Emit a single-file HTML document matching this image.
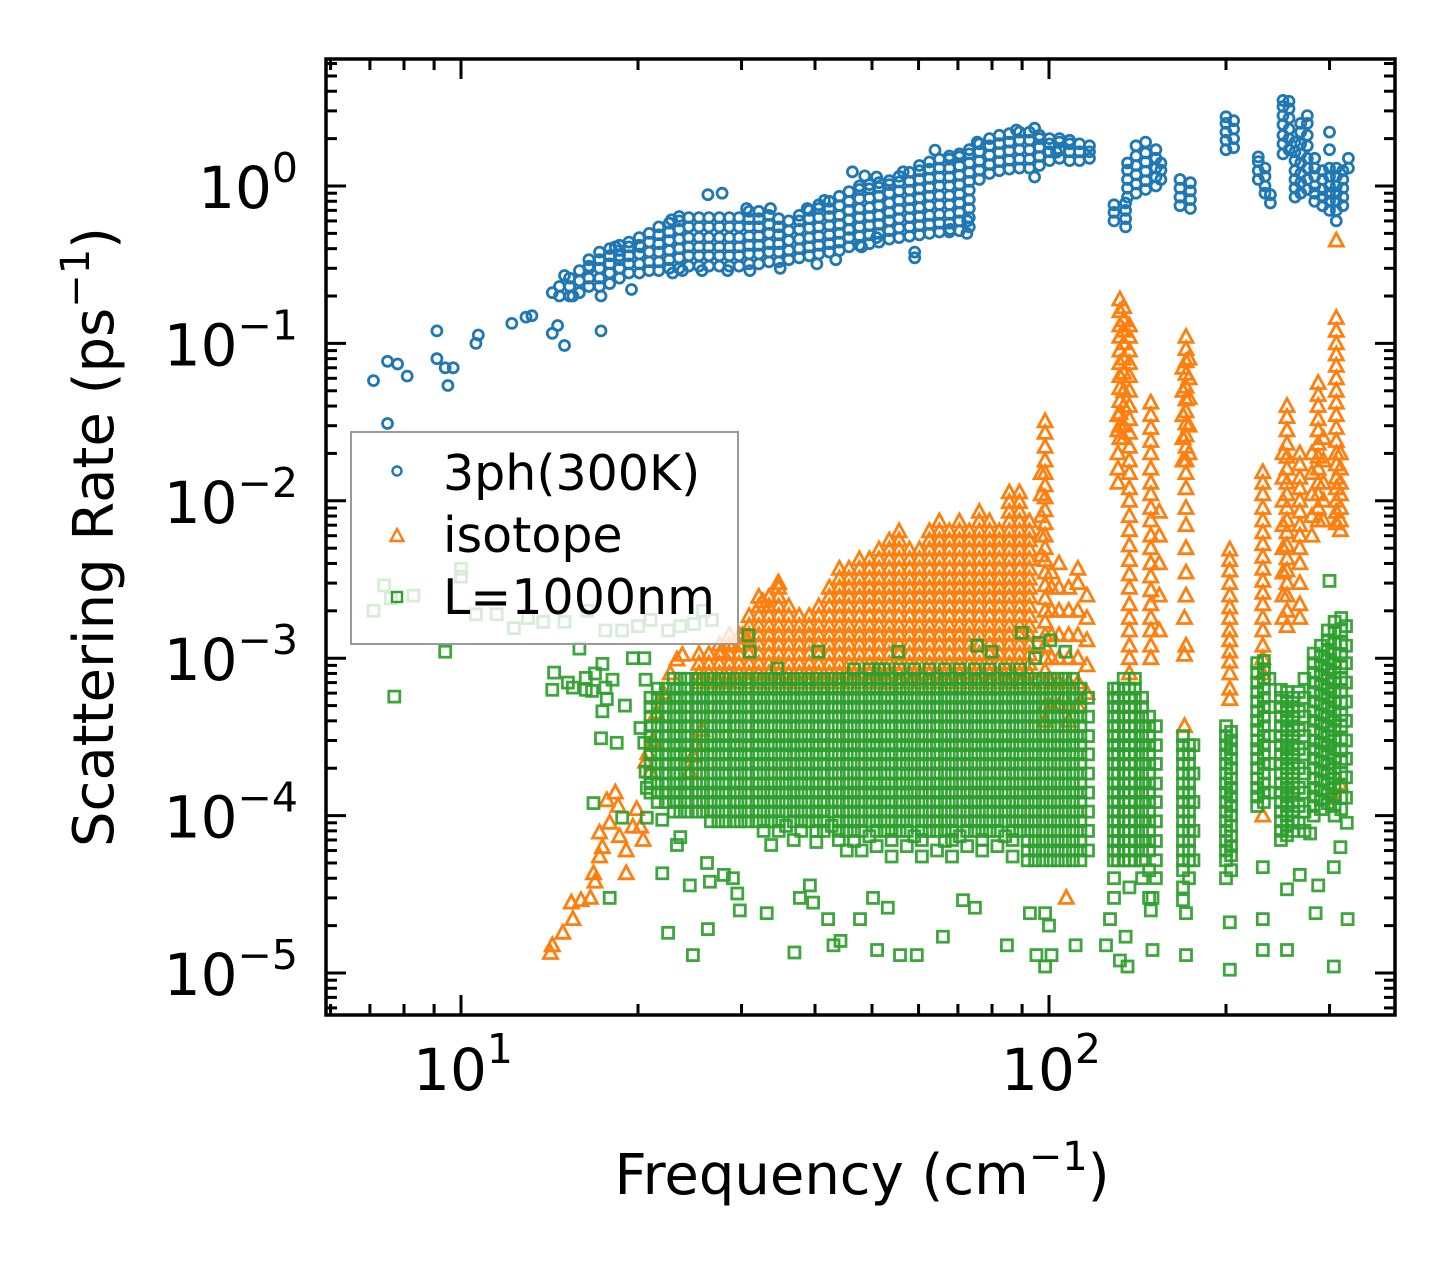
<!DOCTYPE html>
<html>
<head>
<meta charset="utf-8">
<style>
  html,body{margin:0;padding:0;background:#fff;}
  svg{display:block;}
  text{font-family:"DejaVu Sans","Liberation Sans",sans-serif;fill:#000;}
</style>
</head>
<body>
<svg id="chart" width="1455" height="1265" viewBox="0 0 1455 1265" xmlns="http://www.w3.org/2000/svg">
  <defs>
    <clipPath id="plotClip"><rect x="326" y="59" width="1069" height="956"/></clipPath>
  </defs>
  <rect x="0" y="0" width="1455" height="1265" fill="#fff"/>
  <g id="marks" clip-path="url(#plotClip)">
    <g id="g3ph"></g>
    <g id="giso"></g>
    <g id="gbdy"></g>
  </g>
  <g id="ticks"></g>
  <rect x="326" y="59" width="1069" height="956" fill="none" stroke="#000" stroke-width="3.5"/>
  <g id="labels"></g>
  <text x="862" y="1194" font-size="56" text-anchor="middle">Frequency (cm<tspan dy="-24" font-size="40">−1</tspan><tspan dy="24">)</tspan></text>
  <text transform="translate(113,537) rotate(-90)" x="0" y="0" font-size="56" text-anchor="middle">Scattering Rate (ps<tspan dy="-24" font-size="40">−1</tspan><tspan dy="24">)</tspan></text>
  <g id="legend">
    <rect x="351" y="432" width="387" height="212" fill="rgba(255,255,255,0.8)" stroke="#999" stroke-width="2"/>
    <circle cx="397" cy="471" r="4.5" fill="none" stroke="#1f77b4" stroke-width="2.4"/>
    <text x="443" y="490" font-size="49">3ph(300K)</text>
    <polygon points="397,529 403.5,541 390.5,541" fill="none" stroke="#ff7f0e" stroke-width="2.4"/>
    <text x="443" y="552" font-size="49">isotope</text>
    <rect x="392" y="592" width="10" height="10" fill="none" stroke="#2ca02c" stroke-width="2.4"/>
    <text x="443" y="614" font-size="49">L=1000nm</text>
  </g>
</svg>
<script>
// ---------- axis tick data ----------
const xMajorTicks = [10, 100];
const xMajorLabels = ["1", "2"];
const xMinorTicks = [6,7,8,9,20,30,40,50,60,70,80,90,200,300];
const yMajorTicks = [1e-5,1e-4,1e-3,1e-2,1e-1,1];
const yMajorLabels = ["−5","−4","−3","−2","−1","0"];
const yMinorMant = [2,3,4,5,6,7,8,9];
const yMinorDecades = [1e-6,1e-5,1e-4,1e-3,1e-2,1e-1,1];

// ---------- 3ph(300K) series ----------
const threePhFreq = [
7.1,7.5,7.5,7.8,8.1,9.1,9.1,9.4,9.5,9.7,10.6,10.7,12.2,12.9,13.2,14.3,14.3,14.6,15.0,15.0,15.5,16.5,17.3,17.3,18.3,18.6,19.5,20.2,
22.8,23.5,26.3,27.8,30.6,33.6,38.8,41.5,46.3,48.6,50.9,56.5,64.0,75.5,88.0,94.5,103,
22.9,23.8,25.7,28.4,31.0,34.9,40.3,43.4,48.0,50.9,59.1,59.1,67.9,72.5,72.7,94.5,
14.7,15.3,15.9,16.5,17.2,17.9,18.6,19.3,20.1,20.9,21.7,22.6,23.5,24.4,25.4,26.4,27.5,28.6,29.7,30.9,32.1,33.4,34.7,36.1,37.6,39.1,40.6,42.3,44.0,45.7,47.6,49.5,51.4,53.5,55.6,57.9,60.2,62.6,65.1,67.7,70.4,73.2,76.1,79.2,82.3,85.6,89.1,92.6,96.3,100.2,104.2,108.4,112.7,117.2,
129,135,136,140.6,146,152,155,167,174,200,206,227,233,238,250,256,262,268,275,283,292,300,308,316,323
];
const threePhRates = [
[0.058],[0.031],[0.077],[0.074],[0.062],[0.12],[0.08],[0.07],[0.054],[0.07],[0.10],[0.113],[0.134],[0.147],[0.15],[0.116],[0.21],[0.13],[0.097],[0.27],[0.2],[0.31],[0.12],[0.2],[0.41],[0.36],[0.22],[0.41],
[0.61],[0.64],[0.88],[0.9],[0.72],[0.72],[0.72],[0.81],[1.23],[1.16],[1.14],[1.23],[1.69],[1.9],[2.27],[2.33],[1.64],
[0.28],[0.29],[0.29],[0.29],[0.29],[0.3],[0.32],[0.34],[0.41],[0.47],[0.35],[0.38],[0.53],[0.5],[0.6],[1.14],
[0.2,0.23],
[0.2,0.23,0.26],
[0.21,0.25,0.29],
[0.23,0.26,0.3,0.34],
[0.23,0.26,0.3,0.34,0.38],
[0.24,0.28,0.32,0.36,0.4],
[0.26,0.3,0.34,0.39,0.42],
[0.28,0.32,0.36,0.41,0.44],
[0.28,0.32,0.37,0.42,0.47],
[0.29,0.33,0.38,0.44,0.5],
[0.29,0.33,0.38,0.43,0.49,0.55],
[0.3,0.34,0.39,0.45,0.51,0.58],
[0.3,0.35,0.4,0.46,0.53,0.6],
[0.31,0.36,0.41,0.47,0.55,0.63],
[0.31,0.36,0.41,0.47,0.55,0.63],
[0.31,0.36,0.41,0.47,0.55,0.63],
[0.31,0.36,0.41,0.47,0.55,0.63],
[0.31,0.36,0.41,0.47,0.55,0.63],
[0.31,0.36,0.41,0.47,0.55,0.63],
[0.32,0.37,0.42,0.48,0.55,0.62,0.69],
[0.32,0.37,0.42,0.48,0.55,0.62,0.69],
[0.33,0.38,0.43,0.5,0.57,0.65],
[0.33,0.38,0.43,0.49,0.55,0.62],
[0.34,0.39,0.45,0.52,0.6],
[0.35,0.4,0.46,0.53,0.6,0.65],
[0.36,0.41,0.47,0.54,0.62,0.7],
[0.37,0.42,0.48,0.55,0.63,0.72,0.76],
[0.38,0.43,0.49,0.56,0.64,0.72,0.8],
[0.39,0.44,0.5,0.57,0.65,0.75,0.86],
[0.41,0.47,0.53,0.61,0.7,0.8,0.92],
[0.42,0.48,0.55,0.63,0.72,0.83,0.95,1.0],
[0.43,0.49,0.56,0.64,0.73,0.84,0.96,1.02],
[0.44,0.5,0.57,0.65,0.75,0.86,0.98,1.05],
[0.46,0.52,0.6,0.68,0.78,0.9,1.02,1.08],
[0.47,0.54,0.62,0.71,0.81,0.93,1.06,1.15],
[0.48,0.55,0.63,0.72,0.82,0.94,1.07,1.22],
[0.49,0.56,0.64,0.73,0.84,0.96,1.1,1.25,1.35],
[0.5,0.57,0.65,0.75,0.86,0.98,1.12,1.28,1.42],
[0.51,0.58,0.66,0.76,0.87,1.0,1.14,1.3,1.48],
[0.51,0.58,0.66,0.76,0.87,1.0,1.14,1.3,1.48,1.55],
[0.52,0.6,0.68,0.78,0.89,1.02,1.17,1.34,1.53,1.6],
[0.55,0.63,0.72,0.82,0.94,1.07,1.22,1.4,1.6,1.7],
[1.1,1.26,1.44,1.65,1.85],
[1.2,1.37,1.57,1.8,2.0],
[1.25,1.43,1.63,1.86,2.1],
[1.28,1.46,1.67,1.9,2.15],
[1.3,1.48,1.7,1.95,2.2],
[1.3,1.48,1.7,1.95,2.2],
[1.35,1.54,1.76,2.0,2.1],
[1.45,1.65,1.85,2.0],
[1.5,1.7,1.9,2.0],
[1.45,1.65,1.85,1.95],
[1.45,1.65,1.85],
[1.5,1.65,1.8],
[0.6,0.68,0.76],
[0.55,0.62,0.7,0.78],
[0.85,0.97,1.1,1.26,1.4],
[0.9,1.03,1.18,1.35,1.55,1.8],
[0.95,1.08,1.24,1.42,1.62,1.9],
[1.0,1.14,1.3,1.5,1.7],
[1.1,1.26,1.4],
[0.75,0.85,0.97,1.1],
[0.72,0.82,0.93,1.05],
[1.7,1.95,2.2,2.5,2.75],
[1.75,2.0,2.3,2.6],
[1.1,1.25,1.43,1.53],
[0.9,1.0,1.15,1.3],
[0.78,0.88],
[1.6,1.85,2.1,2.45,2.8,3.2,3.5],
[1.7,2.0,2.3,2.7,3.1,3.45],
[0.85,0.97,1.1,1.25,1.45,1.65,1.9],
[0.9,1.05,1.2,1.4,1.6,1.85,2.2,2.5],
[0.95,1.1,1.3,1.5,1.8,2.1,2.5,2.8],
[0.8,0.9,1.0,1.15,1.3,1.5],
[0.75,0.85,0.95,1.1,1.25],
[0.7,0.8,0.9,1.0,1.15,1.3,1.7,2.2],
[0.6,0.7,0.8,0.9,1.0,1.15,1.3],
[0.75,0.85,0.97,1.1,1.25],
[1.5,1.3]
];

// ---------- isotope series ----------
const isoFreq = [
14.2,14.3,14.9,15.5,15.4,16.0,16.6,16.9,16.8,17.2,17.4,17.2,17.9,17.7,18.3,18.5,18.6,19.1,19.1,19.6,19.9,20.2,20.4,20.6,20.8,21.0,21.2,21.5,22.1,22.7,23.3,23.8,24.5,24.8,25.1,25.7,27.2,27.8,29.0,30.1,30.6,32.6,34.6,
25.4,26.4,27.5,28.6,29.7,30.9,32.1,33.4,34.7,36.1,37.6,39.1,40.6,42.3,44.0,45.7,47.6,49.5,51.4,53.5,55.6,57.9,60.2,62.6,65.1,67.7,70.4,73.2,76.1,79.2,82.3,85.6,89.1,92.6,
97,98.5,101,104,108,112,116,107,
131,132,134,137,149,154,
169,171,173,170,170,171,
203,203,231,231,250,254,267,280,287,293,308,313,308,305,312
];
const isoRates = [
[1.34e-5],[1.5e-5],[1.8e-5],[2.2e-5],[2.8e-5],[2.9e-5],[3.0e-5],[3.8e-5],[4.3e-5],[5.5e-5],[6.3e-5],[7.8e-5],[9.0e-5],[1.25e-4],[1.4e-4],[1.15e-4],[7.4e-5],[6.0e-5],[4.3e-5],[8.5e-5],[1.1e-4],[8.5e-5],[7.0e-5],[2.2e-4],[2.5e-4],[1.9e-4],[3.0e-4],[4.5e-4],[6.0e-4],[8e-4],[9.8e-4],[1.05e-3],[1.9e-4],[2.4e-4],[2.8e-4],[3.5e-4],[7.3e-4],[1.1e-3],[1.2e-3],[1.4e-3],[1.35e-3],[2.3e-3],[3.0e-3],
[0.0007,0.0008,0.00092,0.00106],
[0.0007,0.0008,0.00092,0.00106],
[0.0007,0.0008,0.00092,0.00106,0.00122],
[0.0007,0.0008,0.00092,0.00106,0.00122,0.0014],
[0.0007,0.0008,0.00092,0.00106,0.00122,0.0014],
[0.0007,0.0008,0.00092,0.00106,0.00122,0.0014,0.0016,0.00185],
[0.0007,0.0008,0.00092,0.00106,0.00122,0.0014,0.0016,0.00185,0.00213,0.00245],
[0.0007,0.0008,0.00092,0.00106,0.00122,0.0014,0.0016,0.00185,0.00213,0.00245],
[0.0007,0.0008,0.00092,0.00106,0.00122,0.0014,0.0016,0.00185,0.00213,0.00245,0.0028,0.003],
[0.0007,0.0008,0.00092,0.00106,0.00122,0.0014,0.0016,0.00185,0.00213],
[0.0007,0.0008,0.00092,0.00106,0.00122,0.0014,0.0016,0.00185],
[0.0007,0.0008,0.00092,0.00106,0.00122,0.0014,0.0016,0.00185],
[0.0007,0.0008,0.00092,0.00106,0.00122,0.0014,0.0016,0.00185,0.00213],
[0.0007,0.0008,0.00092,0.00106,0.00122,0.0014,0.0016,0.00185,0.00213,0.00245,0.0028],
[0.0007,0.0008,0.00092,0.00106,0.00122,0.0014,0.0016,0.00185,0.00213,0.00245,0.0028,0.0032,0.0037],
[0.0007,0.0008,0.00092,0.00106,0.00122,0.0014,0.0016,0.00185,0.00213,0.00245,0.0028,0.0032,0.0037],
[0.0007,0.0008,0.00092,0.00106,0.00122,0.0014,0.0016,0.00185,0.00213,0.00245,0.0028,0.0032,0.0037,0.00425],
[0.0007,0.0008,0.00092,0.00106,0.00122,0.0014,0.0016,0.00185,0.00213,0.00245,0.0028,0.0032,0.0037,0.00425],
[0.0007,0.0008,0.00092,0.00106,0.00122,0.0014,0.0016,0.00185,0.00213,0.00245,0.0028,0.0032,0.0037,0.00425,0.0049],
[0.0007,0.0008,0.00092,0.00106,0.00122,0.0014,0.0016,0.00185,0.00213,0.00245,0.0028,0.0032,0.0037,0.00425,0.0049,0.0056],
[0.0007,0.0008,0.00092,0.00106,0.00122,0.0014,0.0016,0.00185,0.00213,0.00245,0.0028,0.0032,0.0037,0.00425,0.0049,0.0056,0.0064],
[0.0007,0.0008,0.00092,0.00106,0.00122,0.0014,0.0016,0.00185,0.00213,0.00245,0.0028,0.0032,0.0037,0.00425,0.0049],
[0.0007,0.0008,0.00092,0.00106,0.00122,0.0014,0.0016,0.00185,0.00213,0.00245,0.0028,0.0032,0.0037,0.00425,0.0049],
[0.0007,0.0008,0.00092,0.00106,0.00122,0.0014,0.0016,0.00185,0.00213,0.00245,0.0028,0.0032,0.0037,0.00425,0.0049,0.0056,0.0064],
[0.0007,0.0008,0.00092,0.00106,0.00122,0.0014,0.0016,0.00185,0.00213,0.00245,0.0028,0.0032,0.0037,0.00425,0.0049,0.0056,0.0064,0.0074],
[0.0007,0.0008,0.00092,0.00106,0.00122,0.0014,0.0016,0.00185,0.00213,0.00245,0.0028,0.0032,0.0037,0.00425,0.0049,0.0056,0.0064],
[0.0007,0.0008,0.00092,0.00106,0.00122,0.0014,0.0016,0.00185,0.00213,0.00245,0.0028,0.0032,0.0037,0.00425,0.0049,0.0056,0.0064,0.0074],
[0.0007,0.0008,0.00092,0.00106,0.00122,0.0014,0.0016,0.00185,0.00213,0.00245,0.0028,0.0032,0.0037,0.00425,0.0049,0.0056,0.0064],
[0.0007,0.0008,0.00092,0.00106,0.00122,0.0014,0.0016,0.00185,0.00213,0.00245,0.0028,0.0032,0.0037,0.00425,0.0049,0.0056,0.0064,0.0074,0.0085],
[0.0007,0.0008,0.00092,0.00106,0.00122,0.0014,0.0016,0.00185,0.00213,0.00245,0.0028,0.0032,0.0037,0.00425,0.0049,0.0056,0.0064,0.0074],
[0.0007,0.0008,0.00092,0.00106,0.00122,0.0014,0.0016,0.00185,0.00213,0.00245,0.0028,0.0032,0.0037,0.00425,0.0049,0.0056,0.0064],
[0.0007,0.0008,0.00092,0.00106,0.00122,0.0014,0.0016,0.00185,0.00213,0.00245,0.0028,0.0032,0.0037,0.00425,0.0049,0.0056,0.0064,0.0074,0.0085,0.0098,0.0113],
[0.0007,0.0008,0.00092,0.00106,0.00122,0.0014,0.0016,0.00185,0.00213,0.00245,0.0028,0.0032,0.0037,0.00425,0.0049,0.0056,0.0064,0.0074,0.0085,0.0098,0.0113],
[0.0007,0.0008,0.00092,0.00106,0.00122,0.0014,0.0016,0.00185,0.00213,0.00245,0.0028,0.0032,0.0037,0.00425,0.0049,0.0056,0.0064,0.0074],
[0.015,0.011,0.008,0.006,0.0045],
[0.032,0.027,0.022,0.018,0.015,0.0125,0.0105,0.0087,0.0072,0.006,0.005,0.0042,0.0035,0.0029,0.0024,0.002,0.0017,0.0014,0.0012,0.001,0.00083,0.0007,0.0005,0.0004],
[0.0005,0.0007,0.001,0.0014,0.002,0.0028,0.0035],
[0.0005,0.0007,0.001,0.0014,0.002,0.0028,0.004],
[0.0004,0.0005,0.0007,0.001,0.0014,0.002,0.0028],
[0.0005,0.0007,0.001,0.0014,0.002,0.003,0.0037],
[0.0006,0.0009,0.0013,0.0018,0.0025],
[3e-5],
[0.035,0.028,0.02,0.016,0.013],
[0.19,0.16,0.13,0.11,0.09,0.075,0.062,0.052,0.043,0.036,0.03,0.025],
[0.17,0.14,0.12,0.1,0.08,0.065,0.05,0.04,0.03,0.025],
[0.13,0.11,0.09,0.075,0.062,0.05,0.04,0.033,0.027,0.022,0.018,0.015,0.012,0.01,0.008,0.0065,0.0052,0.0042,0.0034,0.0028,0.0022,0.0018,0.0015,0.0012,0.001,0.0008],
[0.042,0.035,0.029,0.024,0.02,0.016,0.013,0.011,0.009,0.0075,0.006,0.005,0.004,0.0033,0.0027,0.0022,0.0018,0.0015,0.0012,0.001],
[0.0085,0.006,0.004,0.0025,0.0015],
[0.07,0.05,0.035,0.025,0.018],
[0.11,0.092,0.077,0.064,0.053,0.044,0.037,0.031,0.026,0.022,0.018,0.015,0.012,0.009,0.007,0.005,0.0035,0.0025],
[0.08,0.06,0.045,0.03,0.02],
[0.0018,0.00105],
[0.00037],
[0.0012],
[0.0049,0.0042,0.0036,0.003,0.0025,0.0021,0.0018,0.0015,0.0013,0.0011,0.00095,0.0008],
[0.00064,0.00055],
[0.0152,0.013,0.011,0.009,0.0075,0.0063,0.0053,0.0044,0.0037,0.0031,0.0026,0.0022,0.0018,0.0015,0.0012,0.001,0.0008],
[0.0001],
[0.02,0.014,0.01,0.007,0.005,0.0035,0.0025,0.0018],
[0.04,0.034,0.028,0.023,0.019,0.016,0.013,0.011,0.009,0.0075,0.0063,0.0052,0.0043,0.0036,0.003,0.0025,0.002,0.0016],
[0.02,0.017,0.014,0.012,0.01,0.0085,0.007,0.006,0.005,0.004,0.003,0.0022,0.0018],
[0.02,0.015,0.011,0.008,0.006],
[0.056,0.047,0.04,0.033,0.028,0.023,0.019,0.016,0.013,0.011,0.009,0.0075],
[0.025,0.018,0.013,0.01,0.0075],
[0.145,0.12,0.1,0.085,0.072,0.06,0.05,0.042,0.035,0.029,0.024,0.02,0.017,0.014,0.012,0.01,0.0085,0.0072],
[0.02,0.016,0.013,0.011,0.009,0.0075,0.0065],
[0.45],
[1.3e-4],
[1.6e-4]
];

// ---------- boundary (L=1000nm) series ----------
const bdyFreq = [
7.1,7.4,7.6,8.3,9.4,10.0,10.0,10.6,11.5,12.3,13.0,13.8,15.0,16.4,17.6,18.8,20.0,21.0,22.5,23.6,24.9,26.7,25.8,7.7,
15.9,14.4,14.3,15.2,15.5,16.3,16.9,17.4,17.6,18.1,19.6,20.5,20.6,16.3,16.7,17.4,17.7,19.0,17.3,18.4,20.2,20.5,20.6,20.7,16.8,18.8,20.7,22.0,
17.9,22.0,23.3,23.6,24.5,26.2,26.5,28.0,29.0,22.5,26.3,24.8,29.5,29.8,33.1,36.9,37.7,39.2,39.7,42.1,43.0,44.2,47.7,51.0,50.2,53.2,55.8,59.6,66.0,71.4,74.8,84.8,92.8,95.2,
40.5,55.4,75.5,79.9,89.9,96.0,34.5,30.8,31.0,51.4,
21.0,21.6,22.3,
23.0,23.6,24.3,25.1,25.8,
26.6,27.4,28.2,29.1,29.9,30.8,31.8,
32.7,33.7,34.7,35.7,36.8,37.9,39.0,40.2,41.4,42.7,43.9,
45.3,46.6,48.0,49.5,50.9,52.5,54.0,55.7,57.3,59.0,60.8,62.6,
64.5,66.5,68.4,70.5,72.6,74.8,77.0,79.3,81.7,84.2,86.7,89.3,
92.0,94.7,97.6,100.5,103.5,106.6,109.8,113.1,116.5,
98.5,101,111,98.5,100,132,135,150,136,171,171,203,203,231,231,254,284,305,322,305,287,254,231,267,278,313,321,127,125,150,149,300,
129,131,134,137,140,144,148,152,169,173,176,200,204,226,232,237,248,254,260,266,272,282,290,298,306,314,320
];
const bdyRates = [
[2.0e-3],[2.9e-3],[2.4e-3],[2.5e-3],[1.1e-3],[3.7e-3],[3.3e-3],[1.9e-3],[1.9e-3],[1.55e-3],[1.8e-3],[1.7e-3],[1.7e-3],[2.0e-3],[1.5e-3],[1.5e-3],[1.6e-3],[1.75e-3],[1.5e-3],[1.6e-3],[1.65e-3],[1.75e-3],[2.0e-3],[5.7e-4],
[1.15e-3],[8.1e-4],[6.3e-4],[7.0e-4],[6.5e-4],[7.5e-4],[8.0e-4],[9.2e-4],[6.5e-4],[7.3e-4],[1.0e-3],[1.0e-3],[7.3e-4],[6.3e-4],[6.2e-4],[4.6e-4],[5.5e-4],[5.0e-4],[3.1e-4],[2.9e-4],[3.6e-4],[2.9e-4],[1.9e-4],[1.5e-4],[1.2e-4],[9.7e-5],[9.7e-5],[9.4e-5],
[3e-5],[4.3e-5],[6.5e-5],[7.3e-5],[3.6e-5],[5e-5],[3.8e-5],[4.2e-5],[4.0e-5],[1.8e-5],[1.9e-5],[1.3e-5],[3.2e-5],[2.5e-5],[2.4e-5],[1.35e-5],[3e-5],[3.6e-5],[2.8e-5],[2.2e-5],[1.5e-5],[1.6e-5],[2.2e-5],[1.4e-5],[3e-5],[2.6e-5],[1.3e-5],[1.3e-5],[1.7e-5],[2.9e-5],[2.6e-5],[1.5e-5],[2.4e-5],[1.3e-5],
[1.1e-3],[1.1e-3],[1.2e-3],[1.1e-3],[1.45e-3],[1.25e-3],[8.6e-4],[1.4e-3],[1.1e-3],[8.5e-4],
// 21.0, 21.6, 22.3
[1.4e-4,1.6e-4,1.85e-4,2.13e-4,2.45e-4,2.8e-4,3.2e-4,3.7e-4,4.25e-4,4.9e-4,5.6e-4],
[1.22e-4,1.4e-4,1.6e-4,1.85e-4,2.13e-4,2.45e-4,2.8e-4,3.2e-4,3.7e-4,4.25e-4,4.9e-4,5.6e-4,6.4e-4],
[1.22e-4,1.4e-4,1.6e-4,1.85e-4,2.13e-4,2.45e-4,2.8e-4,3.2e-4,3.7e-4,4.25e-4,4.9e-4,5.6e-4,6.4e-4],
// 23.0 - 25.8 (5)
[1.06e-4,1.22e-4,1.4e-4,1.6e-4,1.85e-4,2.13e-4,2.45e-4,2.8e-4,3.2e-4,3.7e-4,4.25e-4,4.9e-4,5.6e-4,6.4e-4,7.4e-4],
[1.06e-4,1.22e-4,1.4e-4,1.6e-4,1.85e-4,2.13e-4,2.45e-4,2.8e-4,3.2e-4,3.7e-4,4.25e-4,4.9e-4,5.6e-4,6.4e-4,7.4e-4],
[1.06e-4,1.22e-4,1.4e-4,1.6e-4,1.85e-4,2.13e-4,2.45e-4,2.8e-4,3.2e-4,3.7e-4,4.25e-4,4.9e-4,5.6e-4,6.4e-4,7.4e-4],
[1.06e-4,1.22e-4,1.4e-4,1.6e-4,1.85e-4,2.13e-4,2.45e-4,2.8e-4,3.2e-4,3.7e-4,4.25e-4,4.9e-4,5.6e-4,6.4e-4,7.4e-4],
[1.06e-4,1.22e-4,1.4e-4,1.6e-4,1.85e-4,2.13e-4,2.45e-4,2.8e-4,3.2e-4,3.7e-4,4.25e-4,4.9e-4,5.6e-4,6.4e-4,7.4e-4],
// 26.6 - 31.8 (7)
[9.2e-5,1.06e-4,1.22e-4,1.4e-4,1.6e-4,1.85e-4,2.13e-4,2.45e-4,2.8e-4,3.2e-4,3.7e-4,4.25e-4,4.9e-4,5.6e-4,6.4e-4,7.4e-4],
[9.2e-5,1.06e-4,1.22e-4,1.4e-4,1.6e-4,1.85e-4,2.13e-4,2.45e-4,2.8e-4,3.2e-4,3.7e-4,4.25e-4,4.9e-4,5.6e-4,6.4e-4,7.4e-4],
[9.2e-5,1.06e-4,1.22e-4,1.4e-4,1.6e-4,1.85e-4,2.13e-4,2.45e-4,2.8e-4,3.2e-4,3.7e-4,4.25e-4,4.9e-4,5.6e-4,6.4e-4,7.4e-4],
[9.2e-5,1.06e-4,1.22e-4,1.4e-4,1.6e-4,1.85e-4,2.13e-4,2.45e-4,2.8e-4,3.2e-4,3.7e-4,4.25e-4,4.9e-4,5.6e-4,6.4e-4,7.4e-4],
[9.2e-5,1.06e-4,1.22e-4,1.4e-4,1.6e-4,1.85e-4,2.13e-4,2.45e-4,2.8e-4,3.2e-4,3.7e-4,4.25e-4,4.9e-4,5.6e-4,6.4e-4,7.4e-4],
[9.2e-5,1.06e-4,1.22e-4,1.4e-4,1.6e-4,1.85e-4,2.13e-4,2.45e-4,2.8e-4,3.2e-4,3.7e-4,4.25e-4,4.9e-4,5.6e-4,6.4e-4,7.4e-4],
[9.2e-5,1.06e-4,1.22e-4,1.4e-4,1.6e-4,1.85e-4,2.13e-4,2.45e-4,2.8e-4,3.2e-4,3.7e-4,4.25e-4,4.9e-4,5.6e-4,6.4e-4,7.4e-4],
// 32.7 - 43.9 (11)
[8e-5,9.2e-5,1.06e-4,1.22e-4,1.4e-4,1.6e-4,1.85e-4,2.13e-4,2.45e-4,2.8e-4,3.2e-4,3.7e-4,4.25e-4,4.9e-4,5.6e-4,6.4e-4,7.4e-4],
[6.5e-5,9.2e-5,1.06e-4,1.22e-4,1.4e-4,1.6e-4,1.85e-4,2.13e-4,2.45e-4,2.8e-4,3.2e-4,3.7e-4,4.25e-4,4.9e-4,5.6e-4,6.4e-4,7.4e-4],
[8e-5,9.2e-5,1.06e-4,1.22e-4,1.4e-4,1.6e-4,1.85e-4,2.13e-4,2.45e-4,2.8e-4,3.2e-4,3.7e-4,4.25e-4,4.9e-4,5.6e-4,6.4e-4,7.4e-4],
[8.6e-5,1.06e-4,1.22e-4,1.4e-4,1.6e-4,1.85e-4,2.13e-4,2.45e-4,2.8e-4,3.2e-4,3.7e-4,4.25e-4,4.9e-4,5.6e-4,6.4e-4,7.4e-4],
[7e-5,9.2e-5,1.06e-4,1.22e-4,1.4e-4,1.6e-4,1.85e-4,2.13e-4,2.45e-4,2.8e-4,3.2e-4,3.7e-4,4.25e-4,4.9e-4,5.6e-4,6.4e-4,7.4e-4],
[8e-5,9.2e-5,1.06e-4,1.22e-4,1.4e-4,1.6e-4,1.85e-4,2.13e-4,2.45e-4,2.8e-4,3.2e-4,3.7e-4,4.25e-4,4.9e-4,5.6e-4,6.4e-4,7.4e-4],
[9.2e-5,1.06e-4,1.22e-4,1.4e-4,1.6e-4,1.85e-4,2.13e-4,2.45e-4,2.8e-4,3.2e-4,3.7e-4,4.25e-4,4.9e-4,5.6e-4,6.4e-4,7.4e-4],
[6.8e-5,8e-5,9.2e-5,1.06e-4,1.22e-4,1.4e-4,1.6e-4,1.85e-4,2.13e-4,2.45e-4,2.8e-4,3.2e-4,3.7e-4,4.25e-4,4.9e-4,5.6e-4,6.4e-4,7.4e-4],
[8e-5,9.2e-5,1.06e-4,1.22e-4,1.4e-4,1.6e-4,1.85e-4,2.13e-4,2.45e-4,2.8e-4,3.2e-4,3.7e-4,4.25e-4,4.9e-4,5.6e-4,6.4e-4,7.4e-4],
[8.6e-5,1.06e-4,1.22e-4,1.4e-4,1.6e-4,1.85e-4,2.13e-4,2.45e-4,2.8e-4,3.2e-4,3.7e-4,4.25e-4,4.9e-4,5.6e-4,6.4e-4,7.4e-4],
[7e-5,8e-5,9.2e-5,1.06e-4,1.22e-4,1.4e-4,1.6e-4,1.85e-4,2.13e-4,2.45e-4,2.8e-4,3.2e-4,3.7e-4,4.25e-4,4.9e-4,5.6e-4,6.4e-4,7.4e-4],
// 45.3 - 62.6 (12)
[6e-5,8e-5,9.2e-5,1.06e-4,1.22e-4,1.4e-4,1.6e-4,1.85e-4,2.13e-4,2.45e-4,2.8e-4,3.2e-4,3.7e-4,4.25e-4,4.9e-4,5.6e-4,6.4e-4,7.4e-4],
[6.9e-5,8e-5,9.2e-5,1.06e-4,1.22e-4,1.4e-4,1.6e-4,1.85e-4,2.13e-4,2.45e-4,2.8e-4,3.2e-4,3.7e-4,4.25e-4,4.9e-4,5.6e-4,6.4e-4,7.4e-4,8.5e-4],
[6e-5,8e-5,9.2e-5,1.06e-4,1.22e-4,1.4e-4,1.6e-4,1.85e-4,2.13e-4,2.45e-4,2.8e-4,3.2e-4,3.7e-4,4.25e-4,4.9e-4,5.6e-4,6.4e-4,7.4e-4],
[7.4e-5,9.2e-5,1.06e-4,1.22e-4,1.4e-4,1.6e-4,1.85e-4,2.13e-4,2.45e-4,2.8e-4,3.2e-4,3.7e-4,4.25e-4,4.9e-4,5.6e-4,6.4e-4,7.4e-4,8.5e-4],
[6.4e-5,8e-5,9.2e-5,1.06e-4,1.22e-4,1.4e-4,1.6e-4,1.85e-4,2.13e-4,2.45e-4,2.8e-4,3.2e-4,3.7e-4,4.25e-4,4.9e-4,5.6e-4,6.4e-4,7.4e-4],
[8e-5,9.2e-5,1.06e-4,1.22e-4,1.4e-4,1.6e-4,1.85e-4,2.13e-4,2.45e-4,2.8e-4,3.2e-4,3.7e-4,4.25e-4,4.9e-4,5.6e-4,6.4e-4,7.4e-4,8.5e-4],
[5.5e-5,7e-5,8e-5,9.2e-5,1.06e-4,1.22e-4,1.4e-4,1.6e-4,1.85e-4,2.13e-4,2.45e-4,2.8e-4,3.2e-4,3.7e-4,4.25e-4,4.9e-4,5.6e-4,6.4e-4,7.4e-4],
[8e-5,9.2e-5,1.06e-4,1.22e-4,1.4e-4,1.6e-4,1.85e-4,2.13e-4,2.45e-4,2.8e-4,3.2e-4,3.7e-4,4.25e-4,4.9e-4,5.6e-4,6.4e-4,7.4e-4,8.5e-4],
[6.4e-5,8e-5,9.2e-5,1.06e-4,1.22e-4,1.4e-4,1.6e-4,1.85e-4,2.13e-4,2.45e-4,2.8e-4,3.2e-4,3.7e-4,4.25e-4,4.9e-4,5.6e-4,6.4e-4,7.4e-4],
[7.4e-5,9.2e-5,1.06e-4,1.22e-4,1.4e-4,1.6e-4,1.85e-4,2.13e-4,2.45e-4,2.8e-4,3.2e-4,3.7e-4,4.25e-4,4.9e-4,5.6e-4,6.4e-4,7.4e-4,8.5e-4],
[5.5e-5,7e-5,8e-5,9.2e-5,1.06e-4,1.22e-4,1.4e-4,1.6e-4,1.85e-4,2.13e-4,2.45e-4,2.8e-4,3.2e-4,3.7e-4,4.25e-4,4.9e-4,5.6e-4,6.4e-4,7.4e-4],
[8e-5,9.2e-5,1.06e-4,1.22e-4,1.4e-4,1.6e-4,1.85e-4,2.13e-4,2.45e-4,2.8e-4,3.2e-4,3.7e-4,4.25e-4,4.9e-4,5.6e-4,6.4e-4,7.4e-4,8.5e-4],
// 64.5 - 89.3 (12)
[6e-5,8e-5,9.2e-5,1.06e-4,1.22e-4,1.4e-4,1.6e-4,1.85e-4,2.13e-4,2.45e-4,2.8e-4,3.2e-4,3.7e-4,4.25e-4,4.9e-4,5.6e-4,6.4e-4,7.4e-4],
[6.9e-5,8e-5,9.2e-5,1.06e-4,1.22e-4,1.4e-4,1.6e-4,1.85e-4,2.13e-4,2.45e-4,2.8e-4,3.2e-4,3.7e-4,4.25e-4,4.9e-4,5.6e-4,6.4e-4,7.4e-4,8.5e-4],
[5.5e-5,7e-5,8e-5,9.2e-5,1.06e-4,1.22e-4,1.4e-4,1.6e-4,1.85e-4,2.13e-4,2.45e-4,2.8e-4,3.2e-4,3.7e-4,4.25e-4,4.9e-4,5.6e-4,6.4e-4,7.4e-4],
[7.4e-5,9.2e-5,1.06e-4,1.22e-4,1.4e-4,1.6e-4,1.85e-4,2.13e-4,2.45e-4,2.8e-4,3.2e-4,3.7e-4,4.25e-4,4.9e-4,5.6e-4,6.4e-4,7.4e-4,8.5e-4],
[6.4e-5,8e-5,9.2e-5,1.06e-4,1.22e-4,1.4e-4,1.6e-4,1.85e-4,2.13e-4,2.45e-4,2.8e-4,3.2e-4,3.7e-4,4.25e-4,4.9e-4,5.6e-4,6.4e-4,7.4e-4],
[8e-5,9.2e-5,1.06e-4,1.22e-4,1.4e-4,1.6e-4,1.85e-4,2.13e-4,2.45e-4,2.8e-4,3.2e-4,3.7e-4,4.25e-4,4.9e-4,5.6e-4,6.4e-4,7.4e-4,8.5e-4],
[6e-5,7e-5,8e-5,9.2e-5,1.06e-4,1.22e-4,1.4e-4,1.6e-4,1.85e-4,2.13e-4,2.45e-4,2.8e-4,3.2e-4,3.7e-4,4.25e-4,4.9e-4,5.6e-4,6.4e-4,7.4e-4],
[8e-5,9.2e-5,1.06e-4,1.22e-4,1.4e-4,1.6e-4,1.85e-4,2.13e-4,2.45e-4,2.8e-4,3.2e-4,3.7e-4,4.25e-4,4.9e-4,5.6e-4,6.4e-4,7.4e-4,8.5e-4],
[6.4e-5,8e-5,9.2e-5,1.06e-4,1.22e-4,1.4e-4,1.6e-4,1.85e-4,2.13e-4,2.45e-4,2.8e-4,3.2e-4,3.7e-4,4.25e-4,4.9e-4,5.6e-4,6.4e-4,7.4e-4],
[7.4e-5,9.2e-5,1.06e-4,1.22e-4,1.4e-4,1.6e-4,1.85e-4,2.13e-4,2.45e-4,2.8e-4,3.2e-4,3.7e-4,4.25e-4,4.9e-4,5.6e-4,6.4e-4,7.4e-4,8.5e-4],
[5.5e-5,7e-5,8e-5,9.2e-5,1.06e-4,1.22e-4,1.4e-4,1.6e-4,1.85e-4,2.13e-4,2.45e-4,2.8e-4,3.2e-4,3.7e-4,4.25e-4,4.9e-4,5.6e-4,6.4e-4,7.4e-4],
[8e-5,9.2e-5,1.06e-4,1.22e-4,1.4e-4,1.6e-4,1.85e-4,2.13e-4,2.45e-4,2.8e-4,3.2e-4,3.7e-4,4.25e-4,4.9e-4,5.6e-4,6.4e-4,7.4e-4,8.5e-4],
// 92.0 - 116.5 (9)
[5.2e-5,6e-5,6.9e-5,8e-5,9.2e-5,1.06e-4,1.22e-4,1.4e-4,1.6e-4,1.85e-4,2.13e-4,2.45e-4,2.8e-4,3.2e-4,3.7e-4,4.25e-4,4.9e-4,5.6e-4,6.4e-4,7.4e-4],
[5.2e-5,6e-5,6.9e-5,8e-5,9.2e-5,1.06e-4,1.22e-4,1.4e-4,1.6e-4,1.85e-4,2.13e-4,2.45e-4,2.8e-4,3.2e-4,3.7e-4,4.25e-4,4.9e-4,5.6e-4,6.4e-4,7.4e-4,1.0e-3],
[5.2e-5,6e-5,6.9e-5,8e-5,9.2e-5,1.06e-4,1.22e-4,1.4e-4,1.6e-4,1.85e-4,2.13e-4,2.45e-4,2.8e-4,3.2e-4,3.7e-4,4.25e-4,4.9e-4,5.6e-4,6.4e-4,7.4e-4],
[5.2e-5,6e-5,6.9e-5,8e-5,9.2e-5,1.06e-4,1.22e-4,1.4e-4,1.6e-4,1.85e-4,2.13e-4,2.45e-4,2.8e-4,3.2e-4,3.7e-4,4.25e-4,4.9e-4,5.6e-4,6.4e-4,7.4e-4,1.3e-3],
[5.2e-5,6e-5,6.9e-5,8e-5,9.2e-5,1.06e-4,1.22e-4,1.4e-4,1.6e-4,1.85e-4,2.13e-4,2.45e-4,2.8e-4,3.2e-4,3.7e-4,4.25e-4,4.9e-4,5.6e-4,6.4e-4,7.4e-4],
[5.2e-5,6e-5,6.9e-5,8e-5,9.2e-5,1.06e-4,1.22e-4,1.4e-4,1.6e-4,1.85e-4,2.13e-4,2.45e-4,2.8e-4,3.2e-4,3.7e-4,4.25e-4,4.9e-4,5.6e-4,6.4e-4,7.4e-4,1.1e-3],
[5.2e-5,6e-5,6.9e-5,8e-5,9.2e-5,1.06e-4,1.22e-4,1.4e-4,1.6e-4,1.85e-4,2.13e-4,2.45e-4,2.8e-4,3.2e-4,3.7e-4,4.25e-4,4.9e-4,5.6e-4,6.4e-4,7.4e-4],
[5.2e-5,6e-5,6.9e-5,8e-5,9.2e-5,1.06e-4,1.22e-4,1.4e-4,1.6e-4,1.85e-4,2.13e-4,2.45e-4,2.8e-4,3.2e-4,3.7e-4,4.25e-4,4.9e-4,5.6e-4,6.4e-4],
[6e-5,8e-5,1.06e-4,1.4e-4,1.85e-4,2.45e-4,3.2e-4,4.25e-4,5.6e-4],
// scattered right
[1.1e-5],[1.3e-5],[1.5e-5],[2.4e-5],[2e-5],[1.2e-5],[1.7e-5],[1.4e-5],[1.1e-5],[1.3e-5],[2.4e-5],[1.05e-5],[2.1e-5],[1.4e-5],[2.2e-5],[1.4e-5],[2.4e-5],[1.1e-5],[2.2e-5],[4.7e-5],[3.6e-5],[3.4e-5],[4.7e-5],[4.2e-5],[7.7e-5],[6.3e-5],[9e-5],[2.2e-5],[1.5e-5],[3e-5],[2.5e-5],[3.1e-3],
// spikes
[3e-5,4e-5,5.2e-5,6e-5,6.9e-5,8e-5,9.2e-5,1.06e-4,1.22e-4,1.4e-4,1.6e-4,1.85e-4,2.13e-4,2.45e-4,2.8e-4,3.2e-4,3.7e-4,4.25e-4,4.9e-4,5.6e-4,6.4e-4],
[5.2e-5,6e-5,6.9e-5,8e-5,9.2e-5,1.06e-4,1.22e-4,1.4e-4,1.6e-4,1.85e-4,2.13e-4,2.45e-4,2.8e-4,3.2e-4,3.7e-4,4.25e-4,4.9e-4,5.6e-4,6.4e-4],
[5.2e-5,6e-5,6.9e-5,8e-5,9.2e-5,1.06e-4,1.22e-4,1.4e-4,1.6e-4,1.85e-4,2.13e-4,2.45e-4,2.8e-4,3.2e-4,3.7e-4,4.25e-4,4.9e-4,5.6e-4,6.4e-4,7.4e-4],
[3.5e-5,5.2e-5,6e-5,6.9e-5,8e-5,9.2e-5,1.06e-4,1.22e-4,1.4e-4,1.6e-4,1.85e-4,2.13e-4,2.45e-4,2.8e-4,3.2e-4,3.7e-4,4.25e-4,4.9e-4,5.6e-4,6.4e-4],
[5.2e-5,6e-5,6.9e-5,8e-5,9.2e-5,1.06e-4,1.22e-4,1.4e-4,1.6e-4,1.85e-4,2.13e-4,2.45e-4,2.8e-4,3.2e-4,3.7e-4,4.25e-4,4.9e-4,5.6e-4,6.4e-4,7.4e-4],
[4e-5,5.2e-5,6e-5,6.9e-5,8e-5,9.2e-5,1.06e-4,1.22e-4,1.4e-4,1.6e-4,1.85e-4,2.13e-4,2.45e-4,2.8e-4,3.2e-4,3.7e-4,4.25e-4,4.9e-4,5.6e-4],
[3e-5,4.5e-5,6e-5,6.9e-5,8e-5,9.2e-5,1.06e-4,1.22e-4,1.4e-4,1.6e-4,1.85e-4,2.13e-4,2.45e-4,2.8e-4,3.2e-4,3.7e-4,4.25e-4],
[4e-5,5.2e-5,6.9e-5,9.2e-5,1.22e-4,1.6e-4,2.13e-4,2.8e-4,3.7e-4],
[2.9e-5,3.5e-5,4.5e-5,5.2e-5,6e-5,6.9e-5,8e-5,9.2e-5,1.06e-4,1.22e-4,1.4e-4,1.6e-4,1.85e-4,2.13e-4,2.45e-4,2.8e-4,3.2e-4],
[4e-5,5.2e-5,6e-5,6.9e-5,8e-5,9.2e-5,1.06e-4,1.22e-4,1.4e-4,1.6e-4,1.85e-4,2.13e-4,2.45e-4,2.8e-4],
[5.2e-5,8e-5,1.22e-4,1.85e-4,2.8e-4],
[4e-5,5.2e-5,6e-5,6.9e-5,8e-5,9.2e-5,1.06e-4,1.22e-4,1.4e-4,1.6e-4,1.85e-4,2.13e-4,2.45e-4,2.8e-4,3.2e-4,3.7e-4],
[4.5e-5,5.6e-5,6.4e-5,7.4e-5,8.6e-5,1e-4,1.15e-4,1.32e-4,1.5e-4,1.72e-4,2e-4,2.3e-4,2.65e-4,3.0e-4,3.4e-4],
[1.15e-4,1.32e-4,1.5e-4,1.72e-4,2e-4,2.3e-4,2.65e-4,3e-4,3.5e-4,4e-4,4.6e-4,5.3e-4,6.1e-4,7e-4,8.1e-4,9.3e-4],
[1.22e-4,1.4e-4,1.6e-4,1.85e-4,2.13e-4,2.45e-4,2.8e-4,3.2e-4,3.7e-4,4.25e-4,4.9e-4,5.6e-4,6.4e-4,7.4e-4,8.5e-4,9.6e-4],
[1.4e-4,2.13e-4,3.2e-4,4.9e-4,7.4e-4],
[7e-5,8e-5,9.2e-5,1.06e-4,1.22e-4,1.4e-4,1.6e-4,1.85e-4,2.13e-4,2.45e-4,2.8e-4,3.2e-4,3.7e-4,4.25e-4,4.9e-4,5.6e-4,6.3e-4],
[7.5e-5,8.6e-5,1e-4,1.15e-4,1.32e-4,1.5e-4,1.72e-4,2e-4,2.3e-4,2.65e-4,3e-4,3.5e-4,4e-4,4.6e-4,5.3e-4,6.1e-4],
[8e-5,9.2e-5,1.06e-4,1.22e-4,1.4e-4,1.6e-4,1.85e-4,2.13e-4,2.45e-4,2.8e-4,3.2e-4,3.7e-4,4.25e-4,4.9e-4,5.6e-4],
[9e-5,1.15e-4,1.5e-4,2e-4,2.65e-4,3.5e-4,4.6e-4,6.1e-4],
[8e-5,1.06e-4,1.4e-4,1.85e-4,2.45e-4,3.2e-4,4.25e-4,5.6e-4,7.4e-4],
[1.0e-4,1.15e-4,1.32e-4,1.5e-4,1.72e-4,2e-4,2.3e-4,2.65e-4,3e-4,3.5e-4,4e-4,4.6e-4,5.3e-4,6.1e-4,7e-4,8.1e-4,9.3e-4,1.07e-3],
[1.1e-4,1.26e-4,1.45e-4,1.67e-4,1.92e-4,2.2e-4,2.55e-4,2.9e-4,3.35e-4,3.85e-4,4.4e-4,5.1e-4,5.9e-4,6.8e-4,7.8e-4,9e-4,1.03e-3,1.2e-3],
[1.2e-4,1.38e-4,1.6e-4,1.85e-4,2.13e-4,2.45e-4,2.8e-4,3.2e-4,3.7e-4,4.25e-4,4.9e-4,5.6e-4,6.4e-4,7.4e-4,8.5e-4,9.8e-4,1.13e-3,1.3e-3,1.5e-3],
[1.0e-4,1.15e-4,1.32e-4,1.5e-4,1.72e-4,2e-4,2.3e-4,2.65e-4,3e-4,3.5e-4,4e-4,4.6e-4,5.3e-4,6.1e-4,7e-4,8.1e-4,9.3e-4,1.07e-3,1.25e-3,1.45e-3,1.7e-3],
[1.1e-4,1.3e-4,1.55e-4,1.85e-4,2.2e-4,2.6e-4,3.1e-4,3.7e-4,4.4e-4,5.2e-4,6.2e-4,7.4e-4,8.8e-4,1.05e-3,1.25e-3,1.5e-3,1.8e-3],
[1.3e-4,1.75e-4,2.3e-4,3e-4,4e-4,5.3e-4,7e-4,9.3e-4,1.2e-3,1.6e-3]
];

// ---------- scales ----------
const X0 = 461, XDEC = 588, Y0 = 186, YDEC = 157.4;
function xScale(f){ return X0 + XDEC*(Math.log10(f) - 1); }
function yScale(r){ return Y0 - YDEC*Math.log10(r); }

const NS = "http://www.w3.org/2000/svg";
function mk(tag, attrs){ const e = document.createElementNS(NS, tag); for (const k in attrs) e.setAttribute(k, attrs[k]); return e; }

// ---------- draw series ----------
const g3 = document.getElementById('g3ph');
threePhFreq.forEach((f, i) => {
  (threePhRates[i] || []).forEach(r => {
    const c = mk('circle', {cx: xScale(f).toFixed(1), cy: yScale(r).toFixed(1), r: 5, fill: 'none', stroke: '#1f77b4', 'stroke-width': 2.8});
    
    
    g3.appendChild(c);
  });
});

const gi = document.getElementById('giso');
isoFreq.forEach((f, i) => {
  (isoRates[i] || []).forEach(r => {
    const x = xScale(f), y = yScale(r);
    const p = mk('polygon', {points: `${x.toFixed(1)},${(y-7.5).toFixed(1)} ${(x+7).toFixed(1)},${(y+5.5).toFixed(1)} ${(x-7).toFixed(1)},${(y+5.5).toFixed(1)}`, fill: 'none', stroke: '#ff7f0e', 'stroke-width': 2.8});
    
    
    gi.appendChild(p);
  });
});

const gb = document.getElementById('gbdy');
bdyFreq.forEach((f, i) => {
  (bdyRates[i] || []).forEach(r => {
    const s = mk('rect', {x: (xScale(f)-5.5).toFixed(1), y: (yScale(r)-5.5).toFixed(1), width: 11, height: 11, fill: 'none', stroke: '#2ca02c', 'stroke-width': 2.8, 'stroke-opacity': 0.92});
    
    
    gb.appendChild(s);
  });
});

// ---------- ticks ----------
const gt = document.getElementById('ticks');
const LEFT = 326, RIGHT = 1395, TOP = 59, BOTTOM = 1015;
function tick(x1, y1, x2, y2, name){
  const l = mk('line', {x1: x1, y1: y1, x2: x2, y2: y2, stroke: '#000', 'stroke-width': 3});
  
  
  gt.appendChild(l);
}
xMajorTicks.forEach(f => { const x = xScale(f); tick(x, BOTTOM, x, BOTTOM-20, 'x-major-tick'); tick(x, TOP, x, TOP+20, 'x-major-tick-top'); });
xMinorTicks.forEach(f => { const x = xScale(f); if (x > LEFT && x < RIGHT) { tick(x, BOTTOM, x, BOTTOM-11, 'x-minor-tick'); tick(x, TOP, x, TOP+11, 'x-minor-tick-top'); } });
yMajorTicks.forEach(r => { const y = yScale(r); tick(LEFT, y, LEFT+20, y, 'y-major-tick'); tick(RIGHT, y, RIGHT-20, y, 'y-major-tick-right'); });
yMinorDecades.forEach(d => { yMinorMant.forEach(m => { const y = yScale(d*m); if (y > TOP && y < BOTTOM) { tick(LEFT, y, LEFT+11, y, 'y-minor-tick'); tick(RIGHT, y, RIGHT-11, y, 'y-minor-tick-right'); } }); });

// ---------- tick labels ----------
const gl = document.getElementById('labels');
xMajorTicks.forEach((f, i) => {
  const t = mk('text', {x: xScale(f) + 2, y: 1090, 'font-size': 58, 'text-anchor': 'middle'});
  
  
  const a = mk('tspan', {}); a.textContent = '10';
  const b = mk('tspan', {dy: -27, 'font-size': 41}); b.textContent = xMajorLabels[i];
  t.appendChild(a); t.appendChild(b); gl.appendChild(t);
});
yMajorTicks.forEach((r, i) => {
  const t = mk('text', {x: 298, y: yScale(r) + 22, 'font-size': 58, 'text-anchor': 'end'});
  
  
  const a = mk('tspan', {}); a.textContent = '10';
  const b = mk('tspan', {dy: -26, 'font-size': 41}); b.textContent = yMajorLabels[i];
  t.appendChild(a); t.appendChild(b); gl.appendChild(t);
});
</script>
</body>
</html>
